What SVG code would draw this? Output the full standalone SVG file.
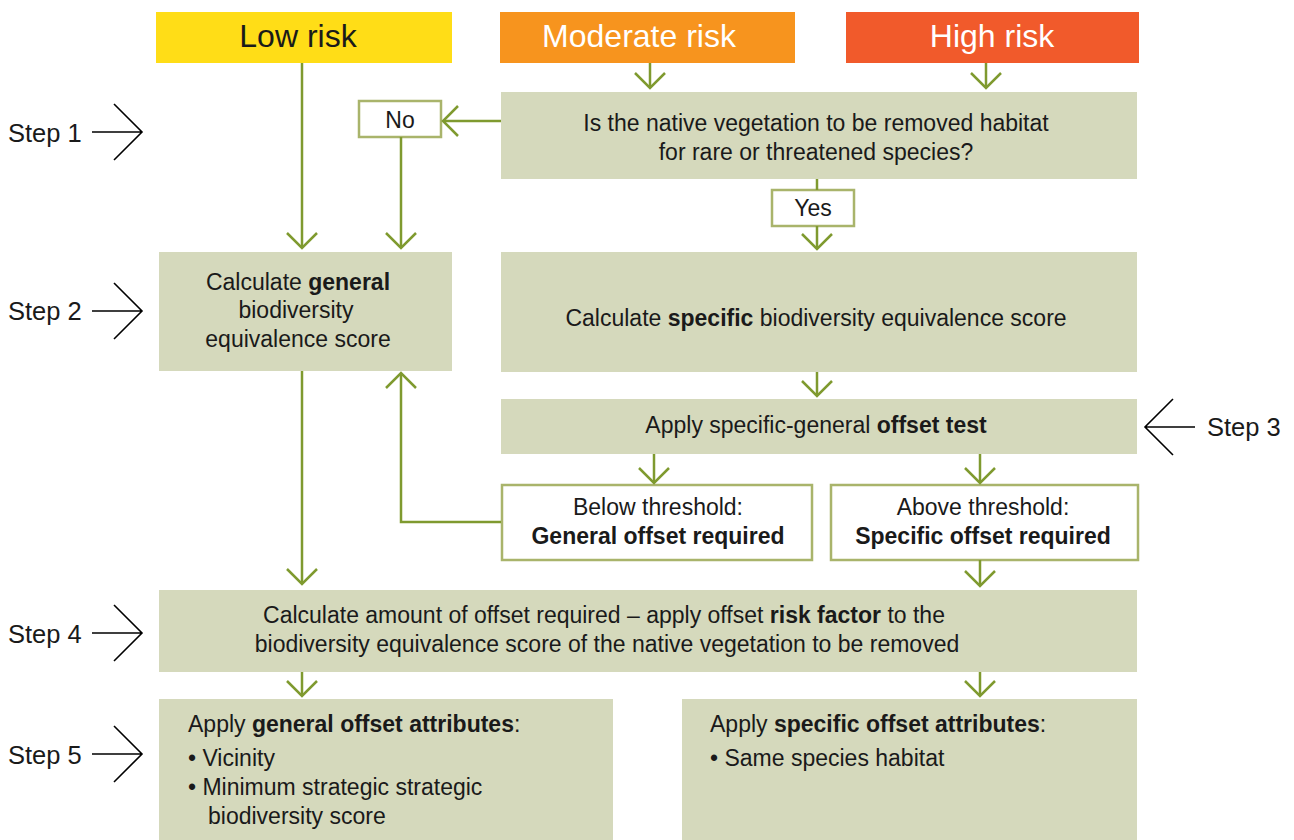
<svg xmlns="http://www.w3.org/2000/svg" width="1294" height="840" viewBox="0 0 1294 840">
<style>
text{font-family:"Liberation Sans",Arial,sans-serif;fill:#1a1a1a}
.hd{font-size:32px}
.t{font-size:23px}
.st{font-size:25.5px}
.b{font-weight:bold}
.box{fill:#d5d9bc}
.wbox{fill:#fff;stroke:#a9b46b;stroke-width:2.5}
.c{fill:none;stroke:#7f9a2f;stroke-width:2.5}
.s{fill:none;stroke:#000;stroke-width:1.6}
</style>
<defs>
<marker id="ah" viewBox="-18 -18 22 36" refX="0" refY="0" markerWidth="22" markerHeight="36" markerUnits="userSpaceOnUse" orient="auto">
<path d="M-15,-15 L0,0 L-15,15" fill="none" stroke="#7f9a2f" stroke-width="2.5"/>
</marker>
</defs>
<g id="hdr-low"><rect x="156" y="12" width="296" height="51" fill="#ffdd17"/><text class="hd" x="298" y="47" text-anchor="middle">Low risk</text></g>
<g id="hdr-mod"><rect x="500" y="12" width="295" height="51" fill="#f7941e"/><text class="hd" x="639" y="47" text-anchor="middle" style="fill:#fff">Moderate risk</text></g>
<g id="hdr-high"><rect x="846" y="12" width="293" height="51" fill="#f15a2b"/><text class="hd" x="992" y="47" text-anchor="middle" style="fill:#fff">High risk</text></g>
<g id="question"><rect class="box" x="501" y="92" width="636" height="87"/><text class="t" x="816" y="131" text-anchor="middle">Is the native vegetation to be removed habitat</text><text class="t" x="816" y="160" text-anchor="middle">for rare or threatened species?</text></g>
<g id="no"><rect class="wbox" x="359" y="101" width="82" height="36"/><text class="t" x="400" y="128" text-anchor="middle">No</text></g>
<g id="yes"><rect class="wbox" x="772" y="190" width="82" height="36"/><text class="t" x="813" y="216" text-anchor="middle">Yes</text></g>
<g id="general"><rect class="box" x="159" y="252" width="293" height="119"/><text class="t" x="298" y="290" text-anchor="middle">Calculate <tspan class="b">general</tspan></text><text class="t" x="296" y="318" text-anchor="middle">biodiversity</text><text class="t" x="298" y="347" text-anchor="middle">equivalence score</text></g>
<g id="specific"><rect class="box" x="501" y="252" width="636" height="120"/><text class="t" x="816" y="326" text-anchor="middle">Calculate <tspan class="b">specific</tspan> biodiversity equivalence score</text></g>
<g id="test"><rect class="box" x="501" y="399" width="636" height="55"/><text class="t" x="816" y="433" text-anchor="middle">Apply specific-general <tspan class="b">offset test</tspan></text></g>
<g id="below"><rect class="wbox" x="502" y="485" width="310" height="75"/><text class="t" x="658" y="515" text-anchor="middle">Below threshold:</text><text class="t b" x="658" y="544" text-anchor="middle">General offset required</text></g>
<g id="above"><rect class="wbox" x="831" y="485" width="307" height="75"/><text class="t" x="983" y="515" text-anchor="middle">Above threshold:</text><text class="t b" x="983" y="544" text-anchor="middle">Specific offset required</text></g>
<g id="amount"><rect class="box" x="159" y="590" width="978" height="82"/><text class="t" x="604" y="623" text-anchor="middle">Calculate amount of offset required – apply offset <tspan class="b">risk factor</tspan> to the</text><text class="t" x="607" y="652" text-anchor="middle">biodiversity equivalence score of the native vegetation to be removed</text></g>
<g id="gen-attr"><rect class="box" x="159" y="699" width="454" height="141"/><text class="t" x="188" y="732">Apply <tspan class="b">general offset attributes</tspan>:</text><text class="t" x="188" y="766">• Vicinity</text><text class="t" x="188" y="795">• Minimum strategic strategic</text><text class="t" x="208" y="824">biodiversity score</text></g>
<g id="spec-attr"><rect class="box" x="682" y="699" width="455" height="141"/><text class="t" x="710" y="732">Apply <tspan class="b">specific offset attributes</tspan>:</text><text class="t" x="710" y="766">• Same species habitat</text></g>
<g id="steps">
<text class="st" x="8" y="142">Step 1</text><path class="s" d="M92,132H142M114,104L142,132L114,160"/>
<text class="st" x="8" y="320">Step 2</text><path class="s" d="M92,311H142M114,283L142,311L114,339"/>
<text class="st" x="1207" y="436">Step 3</text><path class="s" d="M1195,427H1145M1173,399L1145,427L1173,455"/>
<text class="st" x="8" y="643">Step 4</text><path class="s" d="M92,633H142M114,605L142,633L114,661"/>
<text class="st" x="8" y="764">Step 5</text><path class="s" d="M92,754H142M114,726L142,754L114,782"/>
</g>
<g id="connectors">
<path class="c" d="M302,63V248" marker-end="url(#ah)"/>
<path class="c" d="M650,63V88" marker-end="url(#ah)"/>
<path class="c" d="M986,63V88" marker-end="url(#ah)"/>
<path class="c" d="M501,121H443" marker-end="url(#ah)"/>
<path class="c" d="M401,137V248" marker-end="url(#ah)"/>
<path class="c" d="M817,179V190"/>
<path class="c" d="M817,226V249" marker-end="url(#ah)"/>
<path class="c" d="M817,372V396" marker-end="url(#ah)"/>
<path class="c" d="M654,454V483" marker-end="url(#ah)"/>
<path class="c" d="M980,454V483" marker-end="url(#ah)"/>
<path class="c" d="M501,522H401V373" marker-end="url(#ah)"/>
<path class="c" d="M302,371V584" marker-end="url(#ah)"/>
<path class="c" d="M980,560V586" marker-end="url(#ah)"/>
<path class="c" d="M302,672V696" marker-end="url(#ah)"/>
<path class="c" d="M980,672V696" marker-end="url(#ah)"/>
</g>
</svg>
